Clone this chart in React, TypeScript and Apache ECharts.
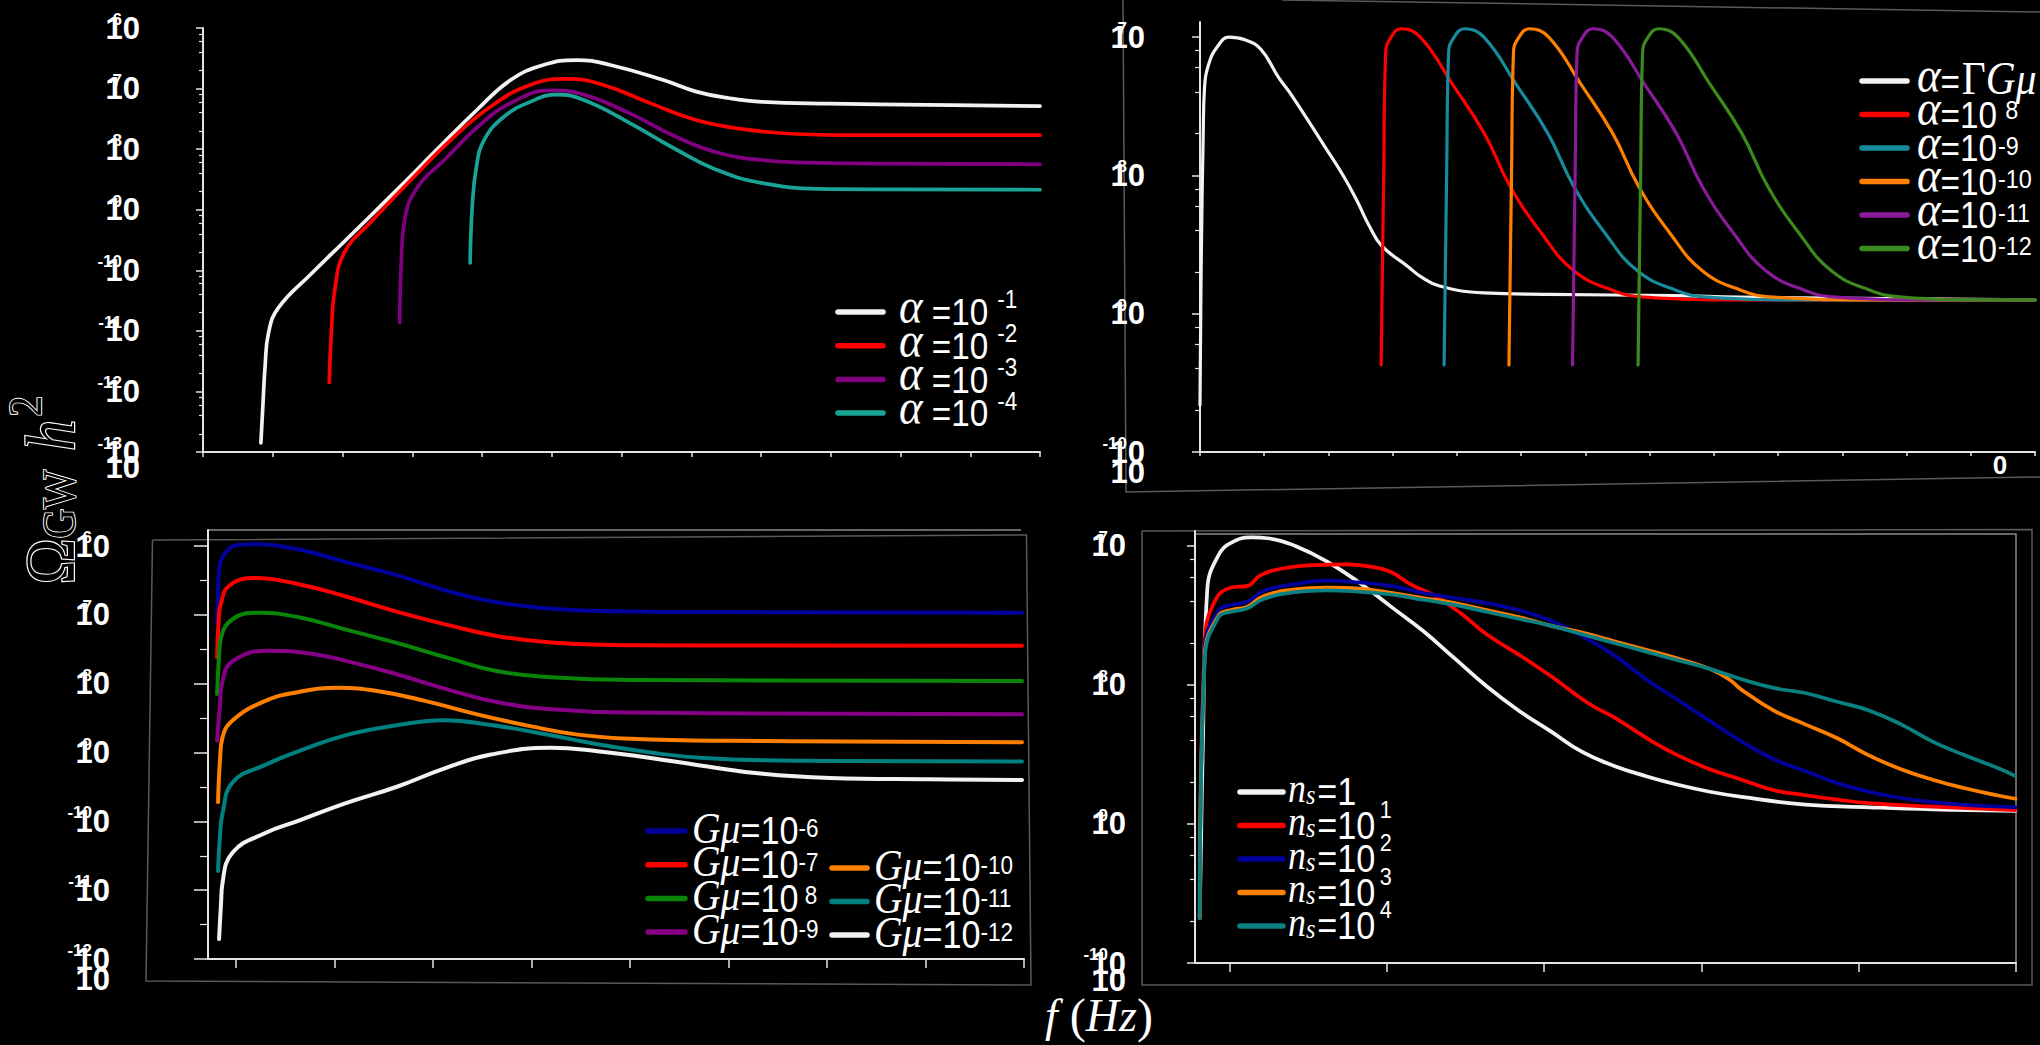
import React, { useEffect, useRef } from "react";
import * as echarts from "echarts";

type Pt = [number, number];

const SANS = "'Liberation Sans', Arial, sans-serif";
const SERIF = "'Liberation Serif', 'DejaVu Serif', serif";

// Every point: [frequency position in x-tick units, log10(Ω_GW h²)]

// ---- Panel (a): α = 10^-1 … 10^-4
const P1_NAMES = ["α=10^-1", "α=10^-2", "α=10^-3", "α=10^-4"];
const P1_COLORS = ["#f2f2f2", "#ff0000", "#800080", "#1aa397"];
const P1_A1: Pt[] = [[0.83,-12.85],[0.86,-12.2],[0.89,-11.59],[0.94,-11.03],[1.08,-10.62],[1.56,-10.05],[2.03,-9.52],[2.79,-8.66],[3.36,-8.0],[3.93,-7.35],[4.41,-6.86],[4.88,-6.61],[5.36,-6.53],[5.84,-6.61],[6.6,-6.86],[7.07,-7.05],[7.55,-7.16],[8.02,-7.22],[8.97,-7.25],[10.4,-7.27],[12,-7.29]];
const P1_A2: Pt[] = [[1.81,-11.85],[1.84,-11.03],[1.89,-10.32],[2.03,-9.7],[2.41,-9.2],[2.98,-8.51],[3.55,-7.85],[4.12,-7.3],[4.69,-6.94],[5.22,-6.84],[5.74,-6.94],[6.41,-7.24],[7.07,-7.52],[7.74,-7.67],[8.5,-7.75],[9.45,-7.77],[12,-7.77]];
const P1_A3: Pt[] = [[2.82,-10.86],[2.84,-9.94],[2.89,-9.17],[3.08,-8.62],[3.46,-8.18],[3.94,-7.63],[4.41,-7.24],[4.98,-7.03],[5.46,-7.1],[6.12,-7.41],[6.79,-7.8],[7.36,-8.05],[8.02,-8.18],[8.97,-8.23],[12,-8.25]];
const P1_A4: Pt[] = [[3.83,-9.88],[3.86,-8.95],[3.92,-8.29],[4.03,-7.85],[4.31,-7.47],[4.69,-7.22],[5.07,-7.1],[5.46,-7.19],[6.12,-7.57],[6.79,-8.01],[7.36,-8.34],[8.02,-8.56],[8.97,-8.66],[12,-8.67]];

// ---- Panel (b): α = ΓGμ, 10^-8 … 10^-12
const P2_NAMES = ["α=ΓGμ", "α=10^-8", "α=10^-9", "α=10^-10", "α=10^-11", "α=10^-12"];
const P2_COLORS = ["#f2f2f2", "#ff0000", "#178a9c", "#ff8000", "#8b1a9b", "#3c8a1e"];
const P2_GMU: Pt[] = [[0,-9.66],[0.02,-8.6],[0.05,-7.7],[0.07,-7.37],[0.14,-7.19],[0.27,-7.07],[0.45,-7.0],[0.7,-7.02],[0.95,-7.09],[1.22,-7.29],[1.44,-7.43],[1.94,-7.79],[2.24,-8.01],[2.44,-8.18],[2.64,-8.37],[2.83,-8.51],[3.24,-8.66],[3.43,-8.73],[3.73,-8.8],[4.42,-8.85],[5.42,-8.86],[7.41,-8.87],[8.4,-8.88],[13,-8.9]];
const P2_A8: Pt[] = [[2.82,-9.37],[2.86,-8.0],[2.89,-7.12],[2.95,-7.02],[3.13,-6.94],[3.43,-7.0],[3.93,-7.34],[4.43,-7.7],[4.83,-8.08],[5.32,-8.42],[5.82,-8.69],[6.42,-8.83],[6.92,-8.88],[8.41,-8.9],[13,-8.9]];
const P2_A9: Pt[] = [[3.8,-9.37],[3.84,-8.0],[3.87,-7.12],[3.93,-7.02],[4.12,-6.94],[4.42,-7.0],[4.92,-7.34],[5.42,-7.7],[5.82,-8.08],[6.31,-8.42],[6.81,-8.69],[7.41,-8.83],[7.91,-8.88],[9.4,-8.9],[13,-8.9]];
const P2_A10: Pt[] = [[4.81,-9.37],[4.85,-8.0],[4.88,-7.12],[4.94,-7.02],[5.13,-6.94],[5.43,-7.0],[5.93,-7.34],[6.43,-7.7],[6.83,-8.08],[7.32,-8.42],[7.82,-8.69],[8.42,-8.83],[8.92,-8.88],[10.4,-8.9],[13,-8.9]];
const P2_A11: Pt[] = [[5.8,-9.37],[5.84,-8.0],[5.87,-7.12],[5.93,-7.02],[6.12,-6.94],[6.42,-7.0],[6.92,-7.34],[7.42,-7.7],[7.82,-8.08],[8.31,-8.42],[8.81,-8.69],[9.41,-8.83],[9.91,-8.88],[11.4,-8.9],[13,-8.9]];
const P2_A12: Pt[] = [[6.82,-9.37],[6.86,-8.0],[6.89,-7.12],[6.95,-7.02],[7.14,-6.94],[7.44,-7.0],[7.94,-7.34],[8.44,-7.7],[8.84,-8.08],[9.33,-8.42],[9.83,-8.69],[10.43,-8.83],[10.93,-8.88],[12.2,-8.9],[13,-8.9]];

// ---- Panel (c): Gμ = 10^-6 … 10^-12
const P3_NAMES = ["Gμ=10^-6", "Gμ=10^-7", "Gμ=10^-8", "Gμ=10^-9", "Gμ=10^-10", "Gμ=10^-11", "Gμ=10^-12"];
const P3_COLORS = ["#00009a", "#ff0000", "#0a850a", "#850085", "#ff8000", "#008080", "#f2f2f2"];
const P3_G6: Pt[] = [[-0.19,-7.13],[-0.18,-6.7],[-0.17,-6.36],[-0.09,-6.07],[0.05,-5.98],[0.17,-5.975],[0.64,-6.05],[1.11,-6.23],[1.65,-6.43],[2.19,-6.67],[2.66,-6.82],[3.2,-6.91],[4.01,-6.95],[5.02,-6.96],[7.98,-6.97]];
const P3_G7: Pt[] = [[-0.19,-7.62],[-0.17,-7.0],[-0.155,-6.86],[-0.07,-6.58],[0.2,-6.465],[0.64,-6.555],[1.11,-6.73],[1.65,-6.96],[2.19,-7.16],[2.66,-7.31],[3.2,-7.4],[4.01,-7.44],[7.98,-7.45]];
const P3_G8: Pt[] = [[-0.19,-8.15],[-0.17,-7.6],[-0.155,-7.365],[-0.03,-7.06],[0.235,-6.97],[0.64,-7.035],[1.11,-7.21],[1.65,-7.415],[2.19,-7.64],[2.66,-7.82],[3.2,-7.905],[4.01,-7.945],[7.98,-7.96]];
const P3_G9: Pt[] = [[-0.19,-8.83],[-0.16,-8.3],[-0.135,-7.97],[-0.03,-7.67],[0.34,-7.52],[0.77,-7.565],[1.18,-7.69],[1.65,-7.87],[2.19,-8.1],[2.66,-8.27],[3.2,-8.37],[4.01,-8.42],[7.98,-8.445]];
const P3_G10: Pt[] = [[-0.18,-9.72],[-0.16,-9.1],[-0.135,-8.78],[-0.03,-8.53],[0.3,-8.25],[0.64,-8.12],[1.04,-8.06],[1.45,-8.11],[1.92,-8.25],[2.46,-8.45],[3.0,-8.62],[3.47,-8.74],[4.01,-8.8],[5.02,-8.83],[7.98,-8.85]];
const P3_G11: Pt[] = [[-0.18,-10.72],[-0.16,-10.2],[-0.135,-9.89],[-0.03,-9.43],[0.3,-9.18],[0.64,-8.98],[1.11,-8.75],[1.65,-8.6],[2.12,-8.53],[2.59,-8.6],[3.13,-8.73],[3.67,-8.88],[4.21,-9.0],[4.75,-9.08],[5.69,-9.12],[7.98,-9.13]];
const P3_G12: Pt[] = [[-0.17,-11.71],[-0.15,-11.2],[-0.135,-10.9],[-0.03,-10.45],[0.3,-10.17],[0.64,-9.99],[1.11,-9.74],[1.65,-9.49],[2.12,-9.23],[2.59,-9.03],[3.2,-8.93],[3.67,-8.98],[4.21,-9.08],[4.68,-9.18],[5.35,-9.31],[6.03,-9.37],[7.04,-9.39],[7.98,-9.4]];

// ---- Panel (d): n_s = 1 … 10^4
const P4_NAMES = ["n_s=1", "n_s=10^1", "n_s=10^2", "n_s=10^3", "n_s=10^4"];
const P4_COLORS = ["#f2f2f2", "#ff0000", "#00009c", "#ff8000", "#0a8080"];
const P4_N0: Pt[] = [[-0.19,-9.677],[-0.17,-8.432],[-0.142,-7.312],[-0.069,-7.063],[0.012,-6.976],[0.134,-6.938],[0.256,-6.946],[0.418,-7.0],[0.62,-7.112],[0.823,-7.262],[1.026,-7.436],[1.229,-7.61],[1.431,-7.809],[1.634,-8.009],[1.837,-8.183],[2.04,-8.332],[2.242,-8.482],[2.445,-8.582],[2.648,-8.656],[2.85,-8.718],[3.053,-8.768],[3.255,-8.805],[3.66,-8.86],[4.065,-8.88],[4.47,-8.895],[4.997,-8.905]];
const P4_N1: Pt[] = [[-0.19,-9.677],[-0.158,-7.685],[-0.089,-7.386],[0.012,-7.299],[0.114,-7.287],[0.195,-7.212],[0.336,-7.162],[0.539,-7.137],[0.742,-7.132],[0.904,-7.15],[1.026,-7.187],[1.148,-7.274],[1.31,-7.361],[1.472,-7.486],[1.634,-7.635],[1.877,-7.809],[2.04,-7.934],[2.283,-8.133],[2.445,-8.233],[2.688,-8.407],[2.85,-8.506],[3.053,-8.606],[3.255,-8.681],[3.458,-8.756],[3.66,-8.793],[3.864,-8.825],[4.065,-8.85],[4.47,-8.875],[4.997,-8.9]];
const P4_N2: Pt[] = [[-0.19,-9.677],[-0.158,-7.735],[-0.069,-7.461],[0.012,-7.424],[0.114,-7.399],[0.215,-7.324],[0.418,-7.274],[0.62,-7.249],[0.823,-7.262],[1.026,-7.287],[1.229,-7.337],[1.431,-7.374],[1.634,-7.411],[1.837,-7.461],[2.04,-7.536],[2.242,-7.648],[2.445,-7.785],[2.648,-7.959],[2.85,-8.108],[3.053,-8.258],[3.255,-8.407],[3.458,-8.532],[3.66,-8.619],[3.864,-8.706],[4.065,-8.768],[4.269,-8.813],[4.47,-8.843],[4.675,-8.863],[4.997,-8.88]];
const P4_N3: Pt[] = [[-0.19,-9.677],[-0.158,-7.785],[-0.069,-7.498],[0.012,-7.461],[0.114,-7.436],[0.215,-7.361],[0.418,-7.312],[0.62,-7.299],[0.823,-7.306],[1.026,-7.337],[1.229,-7.374],[1.431,-7.411],[1.634,-7.461],[1.837,-7.511],[2.04,-7.573],[2.242,-7.623],[2.445,-7.685],[2.648,-7.747],[2.85,-7.809],[3.053,-7.884],[3.175,-7.959],[3.255,-8.034],[3.458,-8.183],[3.66,-8.283],[3.864,-8.383],[4.065,-8.506],[4.269,-8.606],[4.47,-8.681],[4.675,-8.743],[4.877,-8.793],[4.997,-8.818]];
const P4_N4: Pt[] = [[-0.19,-9.677],[-0.158,-7.809],[-0.069,-7.511],[0.012,-7.473],[0.114,-7.448],[0.215,-7.381],[0.418,-7.332],[0.62,-7.319],[0.823,-7.329],[1.026,-7.349],[1.229,-7.386],[1.431,-7.424],[1.634,-7.473],[1.837,-7.523],[2.04,-7.573],[2.242,-7.635],[2.445,-7.698],[2.648,-7.76],[2.85,-7.822],[3.053,-7.884],[3.255,-7.959],[3.458,-8.021],[3.66,-8.058],[3.864,-8.121],[4.065,-8.183],[4.269,-8.283],[4.47,-8.407],[4.675,-8.506],[4.877,-8.594],[4.997,-8.656]];

// Legend label texts (rich markup)
const LEGEND_TEXT: Record<string, string> = {
  "α=10^-1": "{a|α}{e| =10}{s|-1}",
  "α=10^-2": "{a|α}{e| =10}{s|-2}",
  "α=10^-3": "{a|α}{e| =10}{s|-3}",
  "α=10^-4": "{a|α}{e| =10}{s|-4}",
  "α=ΓGμ": "{a|α}{e|=}{g|Γ}{m|Gμ}",
  "α=10^-8": "{a|α}{e|=10}{t|8}",
  "α=10^-9": "{a|α}{e|=10}{s|-9}",
  "α=10^-10": "{a|α}{e|=10}{s|-10}",
  "α=10^-11": "{a|α}{e|=10}{s|-11}",
  "α=10^-12": "{a|α}{e|=10}{s|-12}",
  "Gμ=10^-6": "{g|Gμ}{e|=10}{s|-6}",
  "Gμ=10^-7": "{g|Gμ}{e|=10}{s|-7}",
  "Gμ=10^-8": "{g|Gμ}{e|=10}{t|8}",
  "Gμ=10^-9": "{g|Gμ}{e|=10}{s|-9}",
  "Gμ=10^-10": "{g|Gμ}{e|=10}{s|-10}",
  "Gμ=10^-11": "{g|Gμ}{e|=10}{s|-11}",
  "Gμ=10^-12": "{g|Gμ}{e|=10}{s|-12}",
  "n_s=1": "{n|n}{b|s}{e|=1}",
  "n_s=10^1": "{n|n}{b|s}{e|=10}{s|1}",
  "n_s=10^2": "{n|n}{b|s}{e|=10}{s|2}",
  "n_s=10^3": "{n|n}{b|s}{e|=10}{s|3}",
  "n_s=10^4": "{n|n}{b|s}{e|=10}{s|4}",
};

const W = "#ffffff";
const AXIS = "#e4e4e4";

function minorTicks(d0: number, d1: number, mults: number[]) {
  const out: number[] = [];
  for (let d = d0; d <= d1; d++) for (const m of mults) out.push(m * Math.pow(10, d));
  return out;
}

const PANELS = [
  { grid: { left: 203, top: 28, width: 837, height: 424 }, xMin: 0, xMax: 12, xTicks: null as null | number[], xTickLen: 5,
    yMin: 1e-13, yMax: 1e-6, showMax: true, minor: minorTicks(-13, -7, [2, 4, 6, 8]), majorLen: 7, minorLen: 4, labelMargin: 63, expMargin: 81, lw: 3.7 },
  { grid: { left: 1200, top: 22, width: 835, height: 430 }, xMin: 0, xMax: 13, xTicks: null, xTickLen: 4,
    yMin: 1e-10, yMax: 1.285e-7, showMax: false, minor: minorTicks(-10, -8, [2, 4, 6, 8]), majorLen: 8, minorLen: 5, labelMargin: 55, expMargin: 73, lw: 3.2 },
  { grid: { left: 208, top: 530, width: 816, height: 429 }, xMin: -0.282, xMax: 8, xTicks: [0, 1, 2, 3, 4, 5, 6, 7, 8], xTickLen: 9,
    yMin: 1e-12, yMax: 1.71e-6, showMax: false, minor: minorTicks(-12, -7, [3.1623]), majorLen: 14, minorLen: 8, labelMargin: 98, expMargin: 116, lw: 4 },
  { grid: { left: 1195, top: 531, width: 821, height: 432 }, xMin: -0.22, xMax: 5, xTicks: [0, 1, 2, 3, 4, 5], xTickLen: 9,
    yMin: 1e-10, yMax: 1.282e-7, showMax: false, minor: minorTicks(-10, -8, [2, 4, 6, 8]), majorLen: 8, minorLen: 5, labelMargin: 69, expMargin: 87, lw: 3.7 },
];

const SERIES_DATA: [string[], string[], Pt[][]][] = [
  [P1_NAMES, P1_COLORS, [P1_A1, P1_A2, P1_A3, P1_A4]],
  [P2_NAMES, P2_COLORS, [P2_GMU, P2_A8, P2_A9, P2_A10, P2_A11, P2_A12]],
  [P3_NAMES, P3_COLORS, [P3_G6, P3_G7, P3_G8, P3_G9, P3_G10, P3_G11, P3_G12]],
  [P4_NAMES, P4_COLORS, [P4_N0, P4_N1, P4_N2, P4_N3, P4_N4]],
];

// rich styles (zrender names) for the legend texts
const RICH_P1 = {
  a: { fontFamily: SERIF, fontStyle: "italic", fontSize: 50, lineHeight: 34, padding: [0, 0, 12, 0], fill: W },
  e: { fontFamily: SANS, fontSize: 37, lineHeight: 34, fill: W },
  s: { fontFamily: SANS, fontSize: 25, lineHeight: 10, padding: [0, 0, 25, 10], fill: W },
};
const RICH_P2 = {
  a: { fontFamily: SERIF, fontStyle: "italic", fontSize: 50, lineHeight: 34, padding: [0, 0, 12, 0], fill: W },
  e: { fontFamily: SANS, fontSize: 37, lineHeight: 34, fill: W },
  g: { fontFamily: SERIF, fontSize: 46, lineHeight: 34, padding: [0, 0, 6, 2], fill: W },
  m: { fontFamily: SERIF, fontStyle: "italic", fontSize: 46, lineHeight: 34, padding: [0, 0, 6, 0], fill: W },
  s: { fontFamily: SANS, fontSize: 26, lineHeight: 10, padding: [0, 0, 4, 1], fill: W },
  t: { fontFamily: SANS, fontSize: 26, lineHeight: 10, padding: [0, 0, 8, 9], fill: W },
};
const RICH_P3 = {
  g: { fontFamily: SERIF, fontStyle: "italic", fontSize: 44, lineHeight: 34, padding: [0, 0, 6, 0], fill: W },
  e: { fontFamily: SANS, fontSize: 38, lineHeight: 34, fill: W },
  s: { fontFamily: SANS, fontSize: 25, lineHeight: 10, padding: [0, 0, 6, 0], fill: W },
  t: { fontFamily: SANS, fontSize: 25, lineHeight: 10, padding: [0, 0, 6, 7], fill: W },
};
const RICH_P4 = {
  n: { fontFamily: SERIF, fontStyle: "italic", fontSize: 40, lineHeight: 34, padding: [0, 0, 8, 0], fill: W },
  b: { fontFamily: SERIF, fontStyle: "italic", fontSize: 27, lineHeight: 10, padding: [6, 2, 0, 0], fill: W },
  e: { fontFamily: SANS, fontSize: 38, lineHeight: 34, fill: W },
  s: { fontFamily: SANS, fontSize: 24, lineHeight: 10, padding: [0, 0, 32, 5], fill: W },
};

const LEGENDS = [
  { names: P1_NAMES, colors: P1_COLORS, x1: 838, x2: 883, tx: 899, y0: 312, dy: 33.7, rich: RICH_P1 },
  { names: P2_NAMES, colors: P2_COLORS, x1: 1862, x2: 1907, tx: 1917, y0: 81, dy: 33.5, rich: RICH_P2 },
  { names: P3_NAMES.slice(0, 4), colors: P3_COLORS.slice(0, 4), x1: 648, x2: 685, tx: 692, y0: 831, dy: 33.7, rich: RICH_P3 },
  { names: P3_NAMES.slice(4), colors: P3_COLORS.slice(4), x1: 832, x2: 867, tx: 874, y0: 868, dy: 33.5, rich: RICH_P3 },
  { names: P4_NAMES, colors: P4_COLORS, x1: 1240, x2: 1283, tx: 1288, y0: 792, dy: 33.5, rich: RICH_P4 },
];

function buildOption() {
  const grid = PANELS.map((p) => ({ ...p.grid, containLabel: false, outerBoundsMode: "none" }));
  const xAxis = PANELS.map((p, i) => {
    const ax: any = {
      type: "value", gridIndex: i, min: p.xMin, max: p.xMax,
      axisLine: { show: true, onZero: false, lineStyle: { color: AXIS, width: 2 } },
      axisTick: { show: true, length: p.xTickLen, lineStyle: { color: AXIS, width: 1.5 } },
      axisLabel: { show: false }, splitLine: { show: false },
    };
    if (p.xTicks) { ax.axisTick.customValues = p.xTicks; ax.splitNumber = p.xTicks.length - 1; }
    else ax.interval = 1;
    return ax;
  });
  const yAxis: any[] = [];
  PANELS.forEach((p, i) => {
    yAxis.push({
      type: "log", logBase: 10, gridIndex: i, min: p.yMin, max: p.yMax, position: "left",
      axisLine: { show: true, onZero: false, lineStyle: { color: AXIS, width: 2 } },
      axisTick: { show: true, length: p.majorLen, lineStyle: { color: AXIS, width: 1.5 } },
      axisLabel: { margin: p.labelMargin, formatter: () => "10", fontFamily: SANS, fontSize: 31, fontWeight: "bold", color: W, showMaxLabel: p.showMax },
      splitLine: { show: false }, minorTick: { show: false },
    });
    yAxis.push({
      type: "log", logBase: 10, gridIndex: i, min: p.yMin, max: p.yMax, position: "left",
      axisLine: { show: false, onZero: false },
      axisTick: { show: true, length: p.minorLen, customValues: p.minor, lineStyle: { color: AXIS, width: 1.2 } },
      axisLabel: {
        margin: p.expMargin, fontFamily: SANS, fontSize: 17, fontWeight: "bold", color: W, verticalAlign: "bottom", showMaxLabel: p.showMax,
        formatter: (v: number) => String(Math.round(Math.log10(v))),
      },
      splitLine: { show: false },
    });
  });

  const series: any[] = [];
  SERIES_DATA.forEach(([names, colors, datasets], pi) => {
    datasets.forEach((pts, k) => {
      const c = colors[k];
      series.push({
        name: names[k], type: "line", xAxisIndex: pi, yAxisIndex: pi * 2,
        data: pts.map(([x, l]) => [x, Math.pow(10, l)]),
        showSymbol: false, symbol: "none", smooth: 0.45,
        color: c, itemStyle: { color: c },
        lineStyle: { color: c, width: PANELS[pi].lw, cap: "round", join: "round" },
        emphasis: { disabled: true }, silent: true,
      });
    });
  });

  const legendGraphics: any[] = [];
  LEGENDS.forEach((L) => {
    L.names.forEach((name, k) => {
      const y = L.y0 + k * L.dy;
      legendGraphics.push({
        type: "line", silent: true,
        shape: { x1: L.x1, y1: y, x2: L.x2, y2: y },
        style: { stroke: L.colors[k], lineWidth: 5.5, lineCap: "round" },
      });
      legendGraphics.push({
        type: "text", silent: true, x: L.tx, y, scaleX: 0.9,
        style: { text: LEGEND_TEXT[name], align: "left", verticalAlign: "middle", rich: L.rich, fill: W },
      });
    });
  });

  const frame = (pts: number[][], stroke: string) => ({
    type: "polyline", silent: true, shape: { points: pts },
    style: { stroke, lineWidth: 1.5, fill: null },
  });
  const extraLabel = (x: number, y: number) => ({
    type: "text", silent: true, x, y,
    style: { text: "10", fill: W, font: `bold 31px ${SANS}`, align: "right", verticalAlign: "middle" },
  });

  const graphic = [
    frame([[1282, 0], [2040, 12]], "#5a5a5a"),
    frame([[1123, 0], [1126, 492], [2040, 477]], "#5a5a5a"),
    frame([[152.5, 540], [1026.5, 535], [1031, 985], [146, 981], [152.5, 540]], "#5a5a5a"),
    frame([[208, 530], [1021, 530]], "#8a8a8a"),
    frame([[1142, 531], [2032, 529.5], [2032, 985], [1142, 985], [1142, 531]], "#5a5a5a"),
    frame([[1196, 534], [2016, 534], [2016, 963]], "#8a8a8a"),
    extraLabel(140, 467),
    extraLabel(1145, 472),
    extraLabel(110, 979),
    extraLabel(1126, 980),
    {
      type: "text", silent: true, x: 2000, y: 465,
      style: { text: "0", fill: W, font: `bold 26px ${SANS}`, align: "center", verticalAlign: "middle" },
    },
    ...legendGraphics,
    {
      type: "text", silent: true, x: 50, y: 490, rotation: Math.PI / 2, scaleX: 0.88,
      style: {
        text: "{o|Ω}{s|GW}{h| h}{t|2}", align: "center", verticalAlign: "middle",
        rich: {
          o: { fontFamily: SERIF, fontSize: 70, lineHeight: 70, fill: "#000", stroke: W, lineWidth: 2.4 },
          s: { fontFamily: SERIF, fontSize: 47, lineHeight: 18, padding: [20, 0, 0, 0], fill: "#000", stroke: W, lineWidth: 2 },
          h: { fontFamily: SERIF, fontStyle: "italic", fontSize: 70, lineHeight: 70, padding: [0, 0, 0, 4], fill: "#000", stroke: W, lineWidth: 2.4 },
          t: { fontFamily: SERIF, fontSize: 47, lineHeight: 18, padding: [0, 0, 48, 4], fill: "#000", stroke: W, lineWidth: 2 },
        },
      },
    },
    {
      type: "text", silent: true, x: 1099, y: 1015,
      style: {
        text: "{i|f}{p| (}{i|Hz}{p|)}", align: "center", verticalAlign: "middle",
        rich: {
          i: { fontFamily: SERIF, fontStyle: "italic", fontSize: 46, fill: W },
          p: { fontFamily: SERIF, fontSize: 48, fill: W },
        },
      },
    },
  ];

  return {
    animation: false,
    backgroundColor: "#000",
    textStyle: { fontFamily: SANS },
    grid, xAxis, yAxis, series, graphic,
  };
}

export default function App() {
  const ref = useRef<HTMLDivElement>(null);
  useEffect(() => {
    if (!ref.current) return;
    const chart = echarts.init(ref.current, null, { renderer: "svg" });
    chart.setOption(buildOption() as any);
    return () => chart.dispose();
  }, []);
  return (
    <div
      ref={ref}
      style={{ position: "fixed", left: 0, top: 0, width: 2040, height: 1045, background: "#000" }}
    />
  );
}
